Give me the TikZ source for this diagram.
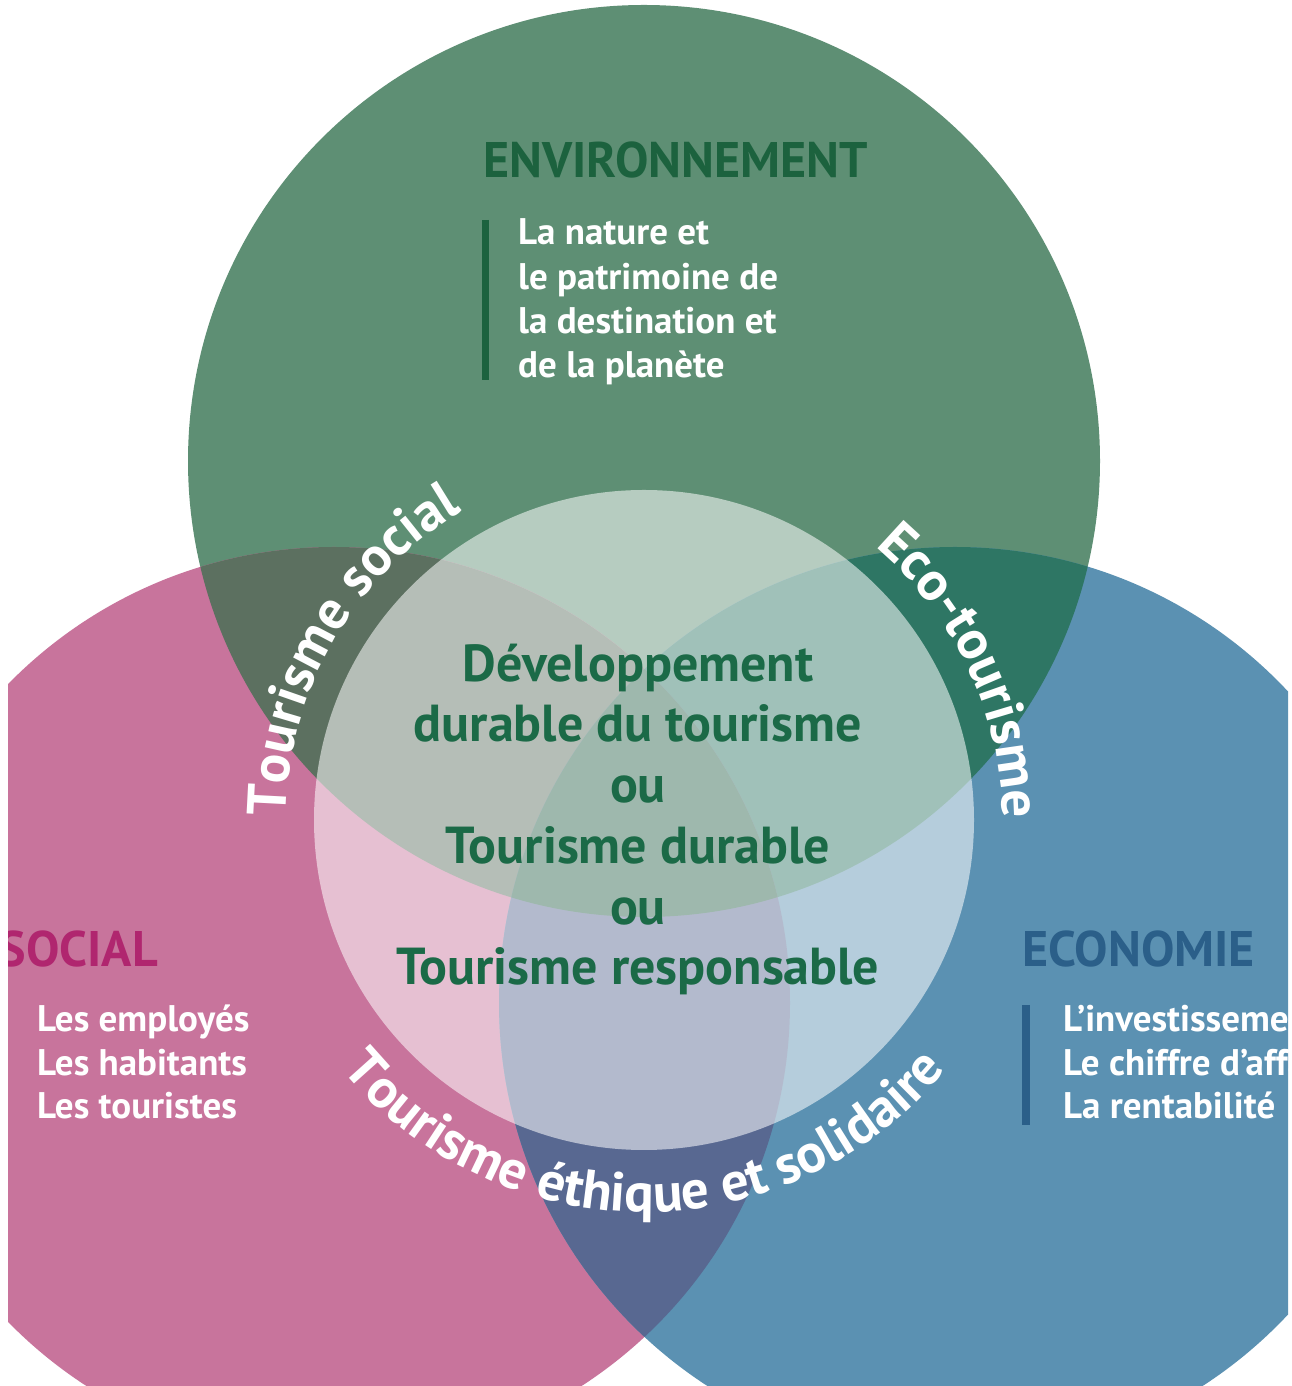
\documentclass[tikz,border=0pt]{standalone}
\usepackage{fontspec}
\setmainfont{PT Sans}
\usetikzlibrary{decorations.text}
\definecolor{cG}{RGB}{94,143,116}
\definecolor{cP}{RGB}{200,116,156}
\definecolor{cB}{RGB}{91,145,178}
\definecolor{cGP}{RGB}{92,112,96}
\definecolor{cGB}{RGB}{46,118,100}
\definecolor{cPB}{RGB}{88,104,145}
\definecolor{cGPB}{RGB}{40,98,74}
\definecolor{envtxt}{RGB}{28,98,62}
\definecolor{soctxt}{RGB}{176,38,111}
\definecolor{ecotxt}{RGB}{43,95,137}
\definecolor{midtxt}{RGB}{27,106,71}
\newcommand{\curvefont}{\bfseries\fontsize{55}{55}\selectfont}
\begin{document}
\begin{tikzpicture}[x=1pt,y=1pt,
  bodytxt/.style={font=\bfseries\fontsize{37}{44}\selectfont, text=white, inner sep=0pt, anchor=base west},
  headtxt/.style={font=\bfseries\fontsize{50}{50}\selectfont, inner sep=0pt},
  midline/.style={font=\bfseries\fontsize{52}{52}\selectfont, text=midtxt, inner sep=0pt, anchor=base},
  arctxt/.style={decorate, decoration={text along path, text align=center, text color=white, text={|\curvefont|#1}}}
]
\useasboundingbox (0,0) rectangle (1291,1386);
\fill[white] (0,0) rectangle (1291,1386);
\begin{scope}
\clip (8,0) rectangle (1288,1386);
% base circles
\fill[cG] (644,925) circle[radius=456];
\fill[cP] (334,383) circle[radius=456];
\fill[cB] (955,383) circle[radius=456];
% pairwise overlaps
\begin{scope}
  \clip (644,925) circle[radius=456];
  \fill[cGP] (334,383) circle[radius=456];
\end{scope}
\begin{scope}
  \clip (644,925) circle[radius=456];
  \fill[cGB] (955,383) circle[radius=456];
\end{scope}
\begin{scope}
  \clip (334,383) circle[radius=456];
  \fill[cPB] (955,383) circle[radius=456];
\end{scope}
\begin{scope}
  \clip (644,925) circle[radius=456];
  \clip (334,383) circle[radius=456];
  \fill[cGPB] (955,383) circle[radius=456];
\end{scope}
% central overlay
\fill[white, opacity=0.55] (644,566) circle[radius=330];

% ENVIRONNEMENT
\node[headtxt, text=envtxt, anchor=base west] (envhead) at (483,1208) {ENVIRONNEMENT};
\coordinate (envbarT) at (485.5,1166);
\coordinate (envbarB) at (485.5,1006);
\draw[envtxt, line width=7pt] (envbarT) -- (envbarB);
\node[bodytxt] (env1) at (518,1141) {La nature et};
\node[bodytxt] (env2) at (518,1096) {le patrimoine de};
\node[bodytxt] (env3) at (518,1052) {la destination et};
\node[bodytxt] (env4) at (518,1008) {de la planète};

% SOCIAL
\node[headtxt, text=soctxt, anchor=base east] (sochead) at (158,419) {SOCIAL};
\node[bodytxt] (soc1) at (37,354) {Les employés};
\node[bodytxt] (soc2) at (37,310) {Les habitants};
\node[bodytxt] (soc3) at (37,267) {Les touristes};

% ECONOMIE
\node[headtxt, text=ecotxt, anchor=base west] (ecohead) at (1022,419) {ECONOMIE};
\coordinate (ecobarT) at (1026,381);
\coordinate (ecobarB) at (1026,261);
\draw[ecotxt, line width=8pt] (ecobarT) -- (ecobarB);
\node[bodytxt] (eco1) at (1063,354) {L’investissement};
\node[bodytxt] (eco2) at (1063,310) {Le chiffre d’affaires};
\node[bodytxt] (eco3) at (1063,267) {La rentabilité};
\end{scope}

% centre text
\node[midline] (m1) at (638,704) {Développement};
\node[midline] (m2) at (638,644) {durable du tourisme};
\node[midline] (m3) at (638,583) {ou};
\node[midline] (m4) at (638,522) {Tourisme durable};
\node[midline] (m5) at (638,461) {ou};
\node[midline] (m6) at (638,401) {Tourisme responsable};

% curved texts
\path[arctxt={Tourisme social}] (644,566) ++(200:358) arc[start angle=200, end angle=100, radius=358];
\path[arctxt={Eco-tourisme}] (644,566) ++(75:358) arc[start angle=75, end angle=-25, radius=358];
\path[arctxt={Tourisme éthique et solidaire}] (644,566) ++(200:392) arc[start angle=200, end angle=340, radius=392];
\end{tikzpicture}
\end{document}
